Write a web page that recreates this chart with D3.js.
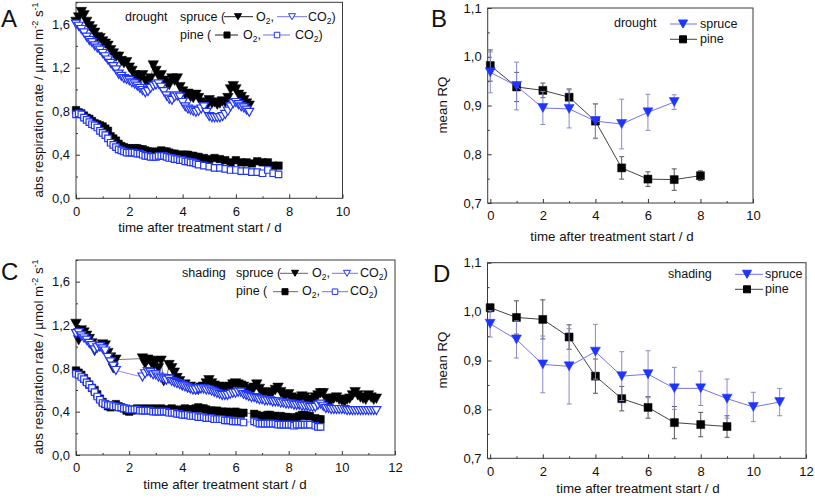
<!DOCTYPE html>
<html><head><meta charset="utf-8">
<script src="https://cdn.jsdelivr.net/npm/d3@7"></script>
<style>body{margin:0;background:#fff} text{font-family:"Liberation Sans",Arial,sans-serif;fill:#111}</style>
</head><body>
<script>
// ---------- DATA ----------
// Panel A (drought) – continuous gas exchange
const timesA_spruce = [0,0.1,0.2,0.3,0.4,0.5,0.6,0.7,0.8,0.9,1,1.1,1.2,1.3,1.4,1.5,1.6,1.7,1.8,1.9,2,2.1,2.2,2.3,2.4,2.5,2.6,2.7,2.8,2.9,3,3.1,3.2,3.3,3.4,3.5,3.6,3.7,3.8,3.9,4,4.1,4.2,4.3,4.4,4.5,4.6,4.7,4.8,4.9,5,5.1,5.2,5.3,5.4,5.5,5.6,5.7,5.8,5.9,6,6.1,6.2,6.3,6.4,6.5];
const spruceO2_A = [1.62,1.66,1.71,1.68,1.62,1.58,1.55,1.52,1.48,1.47,1.44,1.42,1.40,1.36,1.33,1.30,1.30,1.26,1.24,1.25,1.20,1.17,1.13,1.12,1.10,1.13,1.08,1.06,1.10,1.22,1.17,1.12,1.13,1.08,1.06,1.04,1.10,1.08,1.10,1.02,0.98,0.95,0.96,0.93,0.92,0.95,0.92,0.88,0.86,0.84,0.90,0.87,0.88,0.86,0.87,0.89,0.88,0.92,1.00,1.03,1.00,0.95,0.93,0.90,0.87,0.85];
const spruceCO2_A = [1.60,1.58,1.55,1.52,1.48,1.45,1.43,1.40,1.38,1.36,1.33,1.30,1.27,1.24,1.21,1.18,1.14,1.12,1.10,1.09,1.08,1.06,1.05,1.03,1.01,0.99,0.97,0.98,1.01,1.03,1.04,1.05,1.02,0.98,0.94,0.91,0.90,0.93,0.94,0.93,0.88,0.84,0.82,0.81,0.80,0.79,0.80,0.82,0.84,0.79,0.75,0.74,0.74,0.74,0.74,0.75,0.77,0.80,0.84,0.87,0.88,0.86,0.84,0.83,0.81,0.79];
const timesA_pine = [0,0.1,0.2,0.3,0.4,0.5,0.6,0.7,0.8,0.9,1,1.1,1.2,1.3,1.4,1.5,1.6,1.7,1.8,1.9,2,2.1,2.2,2.3,2.4,2.5,2.6,2.7,2.8,2.9,3,3.1,3.2,3.3,3.4,3.5,3.6,3.7,3.8,3.9,4,4.1,4.2,4.3,4.4,4.5,4.6,4.8,5,5.2,5.4,5.6,5.8,6,6.2,6.4,6.6,6.8,7,7.2,7.4,7.6];
const pineO2_A = [0.81,0.79,0.78,0.76,0.74,0.73,0.71,0.69,0.68,0.67,0.66,0.64,0.62,0.57,0.55,0.53,0.50,0.48,0.47,0.46,0.46,0.45,0.46,0.46,0.45,0.45,0.44,0.43,0.43,0.42,0.42,0.43,0.44,0.43,0.43,0.42,0.41,0.41,0.40,0.40,0.40,0.40,0.40,0.39,0.39,0.38,0.38,0.37,0.36,0.37,0.36,0.35,0.33,0.35,0.33,0.33,0.32,0.34,0.33,0.33,0.30,0.30];
const pineCO2_A = [0.77,0.78,0.77,0.74,0.72,0.70,0.68,0.67,0.65,0.62,0.60,0.58,0.55,0.51,0.49,0.47,0.45,0.44,0.43,0.42,0.42,0.42,0.42,0.41,0.41,0.40,0.39,0.39,0.38,0.38,0.38,0.39,0.39,0.39,0.38,0.37,0.37,0.36,0.36,0.35,0.35,0.34,0.34,0.33,0.33,0.32,0.31,0.30,0.29,0.28,0.28,0.27,0.26,0.26,0.25,0.25,0.24,0.24,0.23,0.26,0.23,0.22];

// Panel C (shading)
const timesC_spruce = [0,0.1,0.2,0.3,0.4,0.5,0.6,0.7,0.8,0.9,1,1.1,1.2,1.3,1.4,1.5,
 2.5,2.6,2.7,2.8,2.9,3,3.1,3.2,3.3,3.4,3.5,3.6,3.7,3.8,3.9,4,4.1,4.2,4.3,4.4,4.5,4.6,4.7,4.8,4.9,5,5.1,5.2,5.3,5.4,5.5,5.6,5.7,5.8,5.9,6,6.1,6.2,6.3,6.4,6.5,6.6,6.7,6.8,6.9,7,7.1,7.2,7.3,7.4,7.5,7.6,7.7,7.8,7.9,8,8.1,8.2,8.3,8.4,8.5,8.6,8.7,8.8,8.9,9,9.1,9.2,9.3,9.4,9.5,9.6,9.7,9.8,9.9,10,10.1,10.2,10.3,10.4,10.5,10.6,10.7,10.8,10.9,11,11.1,11.2,11.3];
const spruceO2_C = [1.21,1.06,1.15,1.13,1.10,1.07,1.03,0.96,0.99,1.00,1.02,1.01,0.94,0.90,0.80,0.88,
 0.89,0.84,0.88,0.87,0.82,0.86,0.80,0.87,0.68,0.70,
 0.83,0.80,0.76,0.71,0.68,0.64,0.65,0.62,0.63,0.61,
 0.60,0.60,0.62,0.63,0.66,0.69,0.66,0.64,0.62,0.63,
 0.62,0.60,0.61,0.63,0.65,0.66,0.65,0.64,0.63,0.61,
 0.60,0.59,0.62,0.65,0.61,0.58,0.57,0.56,0.56,0.58,
 0.60,0.62,0.58,0.55,0.55,0.56,0.53,0.51,0.50,0.52,
 0.54,0.53,0.51,0.50,0.50,0.53,0.55,0.57,0.57,0.52,
 0.49,0.50,0.52,0.53,0.51,0.50,0.49,0.51,0.52,0.55,
 0.58,0.55,0.53,0.52,0.51,0.55,0.53,0.51,0.52];
const spruceCO2_C = [1.12,1.13,1.10,1.08,1.06,1.03,1.01,0.97,0.99,1.00,0.98,0.96,0.90,0.86,0.82,0.78,
 0.72,0.75,0.77,0.76,0.74,0.74,0.72,0.71,0.70,0.69,
 0.70,0.68,0.67,0.66,0.65,0.64,0.63,0.62,0.61,0.60,
 0.60,0.61,0.61,0.61,0.60,0.60,0.59,0.58,0.57,0.56,
 0.55,0.55,0.55,0.56,0.57,0.57,0.58,0.58,0.56,0.55,
 0.54,0.53,0.53,0.52,0.51,0.51,0.50,0.50,0.50,0.49,
 0.49,0.49,0.48,0.48,0.47,0.47,0.47,0.46,0.46,0.46,
 0.45,0.45,0.45,0.44,0.44,0.44,0.46,0.47,0.45,0.43,
 0.43,0.42,0.42,0.42,0.42,0.42,0.42,0.41,0.41,0.41,
 0.41,0.41,0.41,0.41,0.41,0.41,0.41,0.41,0.41];
const timesC_pine = [0,0.1,0.2,0.3,0.4,0.5,0.6,0.7,0.8,0.9,1,1.1,1.2,1.3,1.4,1.5,1.6,1.7,1.8,1.9,2,2.1,2.2,2.3,2.4,2.5,2.6,2.7,2.8,2.9,3,3.1,3.2,3.3,3.4,3.5,3.6,3.7,3.8,3.9,4,4.1,4.2,4.3,4.4,4.5,4.6,4.7,4.8,4.9,5,5.1,5.2,5.3,5.4,5.5,5.6,5.7,5.8,5.9,6,6.1,6.2,6.3,
 6.7,6.8,6.9,7,7.1,7.2,7.3,7.4,7.5,7.6,7.7,7.8,7.9,8,8.1,8.2,8.3,8.4,8.5,8.6,8.7,8.8,
 9,9.1,9.2];
const pineO2_C = [0.78,0.76,0.74,0.71,0.68,0.65,0.62,0.60,0.56,0.52,
 0.49,0.47,0.45,0.44,0.45,0.47,0.45,0.44,0.43,0.41,
 0.40,0.41,0.42,0.43,0.42,0.42,0.43,0.42,0.42,0.43,
 0.42,0.42,0.43,0.42,0.41,0.42,0.43,0.42,0.41,0.41,
 0.42,0.43,0.42,0.42,0.42,0.43,0.44,0.43,0.43,0.42,
 0.41,0.41,0.40,0.41,0.40,0.40,0.39,0.40,0.39,0.39,
 0.40,0.39,0.38,0.39,
 0.38,0.37,0.36,0.35,0.36,0.37,0.37,0.36,0.36,0.35,0.36,0.35,0.35,0.35,0.34,0.33,0.35,0.36,0.37,0.37,0.36,0.36,
 0.34,0.33,0.33];
const pineCO2_C = [0.75,0.74,0.72,0.70,0.67,0.65,0.62,0.58,0.54,0.51,
 0.48,0.47,0.46,0.46,0.45,0.45,0.44,0.44,0.43,0.43,
 0.42,0.42,0.42,0.42,0.41,0.41,0.41,0.41,0.41,0.40,
 0.40,0.40,0.40,0.40,0.40,0.39,0.39,0.39,0.38,0.38,
 0.37,0.37,0.37,0.36,0.36,0.36,0.35,0.35,0.35,0.34,
 0.34,0.34,0.33,0.33,0.33,0.33,0.32,0.32,0.32,0.31,
 0.31,0.31,0.31,0.30,
 0.31,0.30,0.29,0.29,0.29,0.29,0.29,0.29,0.29,0.28,0.28,0.28,0.28,0.28,0.28,0.27,0.28,0.28,0.28,0.28,0.28,0.28,
 0.27,0.26,0.26];

// Panel B (drought) – daily mean RQ
const daysB_spruce = [0,1,2,3,4,5,6,7];
const rqB_spruce = [0.968,0.940,0.895,0.893,0.868,0.862,0.886,0.907];
const errB_spruce = [0.042,0.049,0.034,0.039,0.036,0.051,0.037,0.015];
const daysB_pine = [0,1,2,3,4,5,6,7,8];
const rqB_pine = [0.982,0.938,0.931,0.917,0.868,0.772,0.749,0.748,0.756];
const errB_pine = [0.032,0.030,0.015,0.017,0.035,0.023,0.015,0.022,0.010];

// Panel D (shading) – daily mean RQ
const daysD_spruce = [0,1,2,3,4,5,6,7,8,9,10,11];
const rqD_spruce = [0.975,0.943,0.892,0.888,0.918,0.868,0.872,0.843,0.843,0.822,0.805,0.815];
const errD_spruce = [0.027,0.038,0.058,0.077,0.056,0.050,0.048,0.043,0.035,0.040,0.030,0.028];
const daysD_pine = [0,1,2,3,4,5,6,7,8,9];
const rqD_pine = [1.008,0.988,0.984,0.948,0.868,0.822,0.804,0.773,0.769,0.765];
const errD_pine = [0.007,0.034,0.040,0.025,0.035,0.025,0.022,0.033,0.025,0.022];

// tick values
const xMajor10 = [0,2,4,6,8,10], xMinor10 = [1,3,5,7,9];
const xMajor12 = [0,2,4,6,8,10,12], xMinor12 = [1,3,5,7,9,11];
const yMajorRate = [0,0.4,0.8,1.2,1.6], yMinorRate = [0.2,0.6,1.0,1.4,1.8];
const yMajorRQ = [0.7,0.8,0.9,1.0,1.1], yMinorRQ = [0.75,0.85,0.95,1.05];

// ---------- DRAWING ----------
const BLUE = "#1f35ff", BLUELINE = "#7373f5", GREYLINE = "#555";
const svg = d3.select("body").append("svg").attr("width",815).attr("height",500);

const fmtComma = d => d3.format(".1f")(d).replace(".", ",");

function panel(c){
  const x = d3.scaleLinear().domain(c.xd).range([c.l,c.r]);
  const y = d3.scaleLinear().domain(c.yd).range([c.b,c.t]);
  const g = svg.append("g");
  const ax = (sel)=>sel.attr("font-size",13).attr("font-family","Liberation Sans, Arial, sans-serif");
  g.append("g").attr("transform",`translate(0,${c.b})`).call(d3.axisBottom(x).tickValues(c.xminor).tickSize(-2).tickFormat(""));
  g.append("g").attr("transform",`translate(0,${c.b})`).call(d3.axisBottom(x).tickValues(c.xmajor).tickSize(-4).tickPadding(8).tickFormat(d3.format("d"))).call(ax);
  g.append("g").attr("transform",`translate(${c.l},0)`).call(d3.axisLeft(y).tickValues(c.yminor).tickSize(-2).tickFormat(""));
  g.append("g").attr("transform",`translate(${c.l},0)`).call(d3.axisLeft(y).tickValues(c.ymajor).tickSize(-4).tickPadding(6).tickFormat(fmtComma)).call(ax);
  g.selectAll(".domain").remove();
  g.selectAll(".tick line").attr("stroke","#333");
  g.selectAll(".tick text").attr("fill","#111");
  g.append("rect").attr("x",c.l).attr("y",c.t).attr("width",c.r-c.l).attr("height",c.b-c.t)
    .attr("fill","none").attr("stroke","#3a3a3a").attr("stroke-width",1);
  return {x,y,g,c};
}

const triPath = (w,h)=>`M${-w/2},${-h/2}L${w/2},${-h/2}L0,${h/2}Z`;
const sqPath = (s)=>`M${-s/2},${-s/2}h${s}v${s}h${-s}Z`;

function dense(p, times, vals, o){
  const pts = times.map((t,i)=>[t, vals[i]]);
  p.g.append("path").datum(pts)
    .attr("d", d3.line().x(d=>p.x(d[0])).y(d=>p.y(d[1])))
    .attr("fill","none").attr("stroke",o.line).attr("stroke-width",0.8);
  p.g.append("g").selectAll("path").data(pts).join("path")
    .attr("transform", d=>`translate(${p.x(d[0])},${p.y(d[1])})`)
    .attr("d", o.shape)
    .attr("fill", o.fill).attr("stroke", o.stroke).attr("stroke-width", o.sw || 1);
}

function rq(p, days, vals, errs, o){
  const pts = days.map((t,i)=>[t, vals[i], errs[i]]);
  const eg = p.g.append("g").attr("stroke", o.err).attr("stroke-width",1);
  pts.forEach(d=>{
    const xx = p.x(d[0]), y1 = p.y(d[1]-d[2]), y2 = p.y(d[1]+d[2]);
    eg.append("line").attr("x1",xx).attr("x2",xx).attr("y1",y1).attr("y2",y2);
    eg.append("line").attr("x1",xx-2.5).attr("x2",xx+2.5).attr("y1",y1).attr("y2",y1);
    eg.append("line").attr("x1",xx-2.5).attr("x2",xx+2.5).attr("y1",y2).attr("y2",y2);
  });
  p.g.append("path").datum(pts)
    .attr("d", d3.line().x(d=>p.x(d[0])).y(d=>p.y(d[1])))
    .attr("fill","none").attr("stroke",o.line).attr("stroke-width",1);
  p.g.append("g").selectAll("path").data(pts).join("path")
    .attr("transform", d=>`translate(${p.x(d[0])},${p.y(d[1])})`)
    .attr("d", o.shape).attr("fill", o.fill).attr("stroke", o.fill).attr("stroke-width",0.5);
}

function txt(x,y,s,size,anchor){
  return svg.append("text").attr("x",x).attr("y",y).attr("font-size",size||12.5)
    .attr("text-anchor",anchor||"start").text(s);
}
function subText(x,y,main,sub,after,size){
  const t = svg.append("text").attr("x",x).attr("y",y).attr("font-size",size||12.5);
  t.append("tspan").text(main);
  t.append("tspan").attr("font-size",8.5).attr("dy",3).text(sub);
  t.append("tspan").attr("dy",-3).text(after);
  return t;
}
function legLine(x1,x2,y,color){
  svg.append("line").attr("x1",x1).attr("x2",x2).attr("y1",y).attr("y2",y).attr("stroke",color).attr("stroke-width",1);
}
function legMark(x,y,shape,fill,stroke){
  svg.append("path").attr("transform",`translate(${x},${y})`).attr("d",shape).attr("fill",fill).attr("stroke",stroke).attr("stroke-width",1);
}
function yRateTitle(x,y){
  const t = svg.append("text").attr("transform",`translate(${x},${y}) rotate(-90)`).attr("font-size",13.3).attr("text-anchor","middle");
  t.append("tspan").text("abs respiration rate / µmol m");
  t.append("tspan").attr("font-size",9).attr("dy",-5).text("-2");
  t.append("tspan").attr("dy",5).text(" s");
  t.append("tspan").attr("font-size",9).attr("dy",-5).text("-1");
}
function yRQTitle(x,y){
  svg.append("text").attr("transform",`translate(${x},${y}) rotate(-90)`).attr("font-size",13.3).attr("text-anchor","middle").text("mean RQ");
}

// ---- Panel A ----
const pA = panel({l:76,r:342.5,t:2.3,b:198.3,xd:[0,10],yd:[0,1.8],xmajor:xMajor10,xminor:xMinor10,ymajor:yMajorRate,yminor:yMinorRate});
dense(pA, timesA_pine, pineO2_A, {line:GREYLINE, shape:sqPath(7.5), fill:"#000", stroke:"#000", sw:0.5});
dense(pA, timesA_pine, pineCO2_A, {line:BLUELINE, shape:sqPath(6.5), fill:"#fff", stroke:BLUE, sw:1.2});
dense(pA, timesA_spruce, spruceO2_A, {line:GREYLINE, shape:triPath(10.5,9.5), fill:"#000", stroke:"#000", sw:0.5});
dense(pA, timesA_spruce, spruceCO2_A, {line:BLUELINE, shape:triPath(9,8), fill:"#fff", stroke:BLUE, sw:1.2});
yRateTitle(43,100);
txt(200,232,"time after treatment start / d",13.3,"middle");
txt(1,27,"A",24);
txt(125,21,"drought");
txt(180,21,"spruce (");
legLine(224,253,16.7,"#222"); legMark(238,16.7,triPath(7,6),"#000","#000");
subText(256,21,"O","2",",");
legLine(277,307,16.7,BLUELINE); legMark(292,16.7,triPath(7,6),"#fff",BLUE);
subText(308,21,"CO","2",")");
txt(180,39.3,"pine (");
legLine(215,238,35,"#222"); legMark(227,35,sqPath(6),"#000","#000");
subText(243,39.3,"O","2",",");
legLine(263,290,35,BLUELINE); legMark(277,35,sqPath(5.5),"#fff",BLUE);
subText(295,39.3,"CO","2",")");

// ---- Panel B ----
const pB = panel({l:487.7,r:753,t:8,b:203,xd:[-0.1,10],yd:[0.7,1.1],xmajor:xMajor10,xminor:xMinor10,ymajor:yMajorRQ,yminor:yMinorRQ});
rq(pB, daysB_pine, rqB_pine, errB_pine, {err:"#555", line:"#444", shape:sqPath(8), fill:"#000"});
rq(pB, daysB_spruce, rqB_spruce, errB_spruce, {err:"#8a8ac8", line:BLUELINE, shape:triPath(10,9), fill:BLUE});
yRQTitle(447,105);
txt(612,241,"time after treatment start / d",13.3,"middle");
txt(431,27,"B",24);
txt(614,27.3,"drought");
legLine(670,697,24,BLUELINE); legMark(683,24,triPath(9,8),BLUE,BLUE);
txt(700,28,"spruce");
legLine(670,697,39.3,"#444"); legMark(683,39.3,sqPath(7),"#000","#000");
txt(700,43.3,"pine");

// ---- Panel C ----
const pC = panel({l:76,r:395,t:260,b:455,xd:[0,12],yd:[0,1.8],xmajor:xMajor12,xminor:xMinor12,ymajor:yMajorRate,yminor:yMinorRate});
dense(pC, timesC_pine, pineO2_C, {line:GREYLINE, shape:sqPath(7.5), fill:"#000", stroke:"#000", sw:0.5});
dense(pC, timesC_pine, pineCO2_C, {line:BLUELINE, shape:sqPath(6.5), fill:"#fff", stroke:BLUE, sw:1.2});
dense(pC, timesC_spruce, spruceO2_C, {line:GREYLINE, shape:triPath(10.5,9.5), fill:"#000", stroke:"#000", sw:0.5});
dense(pC, timesC_spruce, spruceCO2_C, {line:BLUELINE, shape:triPath(9,8), fill:"#fff", stroke:BLUE, sw:1.2});
yRateTitle(43,357);
txt(225,489,"time after treatment start / d",13.3,"middle");
txt(1,280,"C",24);
txt(182,276.7,"shading");
txt(236,276.7,"spruce (");
legLine(280,308,273.3,"#666"); legMark(295,273.3,triPath(7,6),"#000","#000");
subText(312,276.7,"O","2",",");
legLine(332,358,273.3,BLUELINE); legMark(347,273.3,triPath(7,6),"#fff",BLUE);
subText(360,276.7,"CO","2",")");
txt(236,295,"pine (");
legLine(273,298,291.7,"#666"); legMark(285,291.7,sqPath(6),"#000","#000");
subText(302,295,"O","2",",");
legLine(322,348,291.7,BLUELINE); legMark(335,291.7,sqPath(5.5),"#fff",BLUE);
subText(350,295,"CO","2",")");

// ---- Panel D ----
const pD = panel({l:487.5,r:806,t:262.7,b:458.3,xd:[-0.1,12],yd:[0.7,1.1],xmajor:xMajor12,xminor:xMinor12,ymajor:yMajorRQ,yminor:yMinorRQ});
rq(pD, daysD_pine, rqD_pine, errD_pine, {err:"#555", line:"#444", shape:sqPath(8), fill:"#000"});
rq(pD, daysD_spruce, rqD_spruce, errD_spruce, {err:"#8a8ac8", line:BLUELINE, shape:triPath(10,9), fill:BLUE});
yRQTitle(447,360);
txt(638,493,"time after treatment start / d",13.3,"middle");
txt(433,282,"D",24);
txt(668,278.3,"shading");
legLine(735,763,274.3,BLUELINE); legMark(747,274.3,triPath(9,8),BLUE,BLUE);
txt(765,278.3,"spruce");
legLine(735,763,289.3,"#444"); legMark(747,289.3,sqPath(7),"#000","#000");
txt(765,293.3,"pine");
</script></body></html>
